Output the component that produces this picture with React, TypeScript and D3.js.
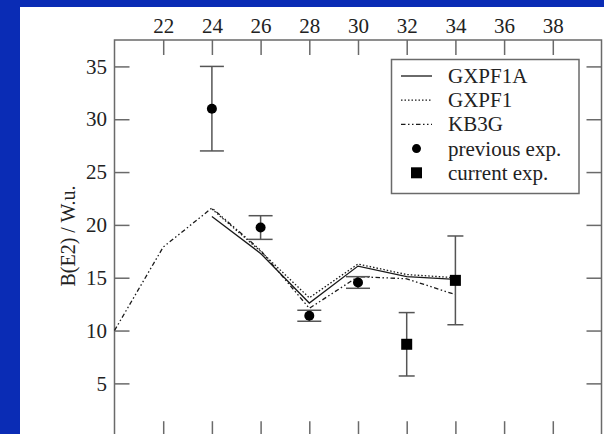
import React, { useEffect, useRef } from 'react';
import * as d3 from 'd3';

// neutron number N on x, B(E2) in W.u. on y
const gxpf1aN = [24, 26, 28, 30, 32, 34];
const gxpf1aVals = [20.8, 17.3, 12.6, 16.1, 15.1, 14.85];
const gxpf1N = [24, 26, 28, 30, 32, 34];
const gxpf1Vals = [21.5, 17.5, 13.1, 16.3, 15.3, 15.0];
const kb3gN = [20, 22, 24, 26, 28, 30, 32, 34];
const kb3gVals = [10.0, 17.9, 21.6, 17.6, 12.1, 15.1, 14.9, 13.4];
const prevN = [24, 26, 28, 30];
const prevVals = [31.0, 19.75, 11.4, 14.55];
const prevErr = [4.0, 1.12, 0.52, 0.55];
const currN = [32, 34];
const currVals = [8.7, 14.75];
const currErr = [3.0, 4.2];
const xTicks = [22, 24, 26, 28, 30, 32, 34, 36, 38];
const yTicks = [5, 10, 15, 20, 25, 30, 35];
const legendLabels = ['GXPF1A', 'GXPF1', 'KB3G', 'previous exp.', 'current exp.'];

const W = 604;
const H = 434;
const FONT = '"Liberation Serif", "DejaVu Serif", serif';

export default function App() {
  const svgRef = useRef<SVGSVGElement>(null);

  useEffect(() => {
    if (!svgRef.current) return;
    const svg = d3.select(svgRef.current);
    svg.selectAll('*').remove();

    const left = 114.5, right = 601.5, top = 40, bottom = 436.2;
    const x = d3.scaleLinear().domain([20, 40]).range([left, right]);
    const y = d3.scaleLinear().domain([0, 37.5]).range([bottom, top]);

    // backgrounds
    svg.append('rect').attr('width', W).attr('height', H).attr('fill', '#0a2cb5');
    svg.append('rect').attr('x', 20).attr('y', 7).attr('width', W - 20).attr('height', H - 7).attr('fill', '#fff');

    const axisColor = '#6a6a6a';
    const styleAxis = (g: any) => {
      g.select('.domain').remove();
      g.selectAll('.tick line').attr('stroke', axisColor).attr('stroke-width', 1.5);
      g.selectAll('.tick text').attr('fill', '#222').attr('font-family', FONT).attr('font-size', 21);
    };

    svg.append('g').attr('transform', `translate(0,${top})`)
      .call(d3.axisTop(x).tickValues(xTicks).tickSize(-15).tickPadding(7.5).tickFormat(d3.format('d')))
      .call(styleAxis);
    svg.append('g').attr('transform', `translate(0,${bottom})`)
      .call(d3.axisBottom(x).tickValues(xTicks).tickSize(-15).tickFormat(() => ''))
      .call(styleAxis);
    svg.append('g').attr('transform', `translate(${left},0)`)
      .call(d3.axisLeft(y).tickValues(yTicks).tickSize(-15).tickPadding(7.5).tickFormat(d3.format('d')))
      .call(styleAxis);
    svg.append('g').attr('transform', `translate(${right},0)`)
      .call(d3.axisRight(y).tickValues(yTicks).tickSize(-15).tickFormat(() => ''))
      .call(styleAxis);

    // frame
    svg.append('rect')
      .attr('x', left).attr('y', top)
      .attr('width', right - left).attr('height', bottom - top)
      .attr('fill', 'none').attr('stroke', axisColor).attr('stroke-width', 1.5);

    // y label
    svg.append('text')
      .attr('transform', `translate(75,236) rotate(-90)`)
      .attr('text-anchor', 'middle')
      .attr('font-family', FONT).attr('font-size', 20).attr('fill', '#222')
      .text('B(E2) / W.u.');

    const line = d3.line<[number, number]>().x(d => x(d[0])).y(d => y(d[1]));
    const styles = [
      { n: gxpf1aN, v: gxpf1aVals, dash: null },
      { n: gxpf1N, v: gxpf1Vals, dash: '1.5,2' },
      { n: kb3gN, v: kb3gVals, dash: '4.5,2.5,1.5,2.5,1.5,2.5' },
    ];
    styles.forEach(s => {
      svg.append('path')
        .datum(s.n.map((n, i) => [n, s.v[i]] as [number, number]))
        .attr('fill', 'none').attr('stroke', '#1a1a1a').attr('stroke-width', 1.3)
        .attr('stroke-dasharray', s.dash)
        .attr('d', line);
    });

    const errColor = '#555';
    const errBars = (ns: number[], vs: number[], es: number[], cap: number) => {
      ns.forEach((n, i) => {
        const cx = x(n);
        const g = svg.append('g').attr('stroke', errColor).attr('stroke-width', 1.5);
        g.append('line').attr('x1', cx).attr('x2', cx).attr('y1', y(vs[i] + es[i])).attr('y2', y(vs[i] - es[i]));
        [vs[i] + es[i], vs[i] - es[i]].forEach(v => {
          g.append('line').attr('x1', cx - cap).attr('x2', cx + cap).attr('y1', y(v)).attr('y2', y(v));
        });
      });
    };
    errBars(prevN, prevVals, prevErr, 12);
    errBars(currN, currVals, currErr, 8);

    prevN.forEach((n, i) => {
      svg.append('circle').attr('cx', x(n)).attr('cy', y(prevVals[i])).attr('r', 5).attr('fill', '#000');
    });
    currN.forEach((n, i) => {
      svg.append('rect').attr('x', x(n) - 5.5).attr('y', y(currVals[i]) - 5.5)
        .attr('width', 11).attr('height', 11).attr('fill', '#000');
    });

    // legend
    const lg = svg.append('g');
    lg.append('rect').attr('x', 391.5).attr('y', 59.5).attr('width', 187.5).attr('height', 134)
      .attr('fill', '#fff').attr('stroke', axisColor).attr('stroke-width', 1.5);
    legendLabels.forEach((label, i) => {
      const base = 83 + i * 24.2;
      const cy = base - 7;
      if (i < 3) {
        lg.append('line').attr('x1', 401).attr('x2', 432).attr('y1', cy).attr('y2', cy)
          .attr('stroke', '#1a1a1a').attr('stroke-width', 1.3)
          .attr('stroke-dasharray', styles[i].dash);
      } else if (i === 3) {
        lg.append('circle').attr('cx', 416.5).attr('cy', cy).attr('r', 4.5).attr('fill', '#000');
      } else {
        lg.append('rect').attr('x', 411).attr('y', cy - 5.5).attr('width', 11).attr('height', 11).attr('fill', '#000');
      }
      lg.append('text').attr('x', 448).attr('y', base)
        .attr('font-family', FONT).attr('font-size', 21).attr('fill', '#222')
        .text(label);
    });
  }, []);

  return (
    <div style={{ position: 'fixed', left: 0, top: 0 }}>
      <svg ref={svgRef} width={W} height={H} style={{ display: 'block' }} />
    </div>
  );
}
